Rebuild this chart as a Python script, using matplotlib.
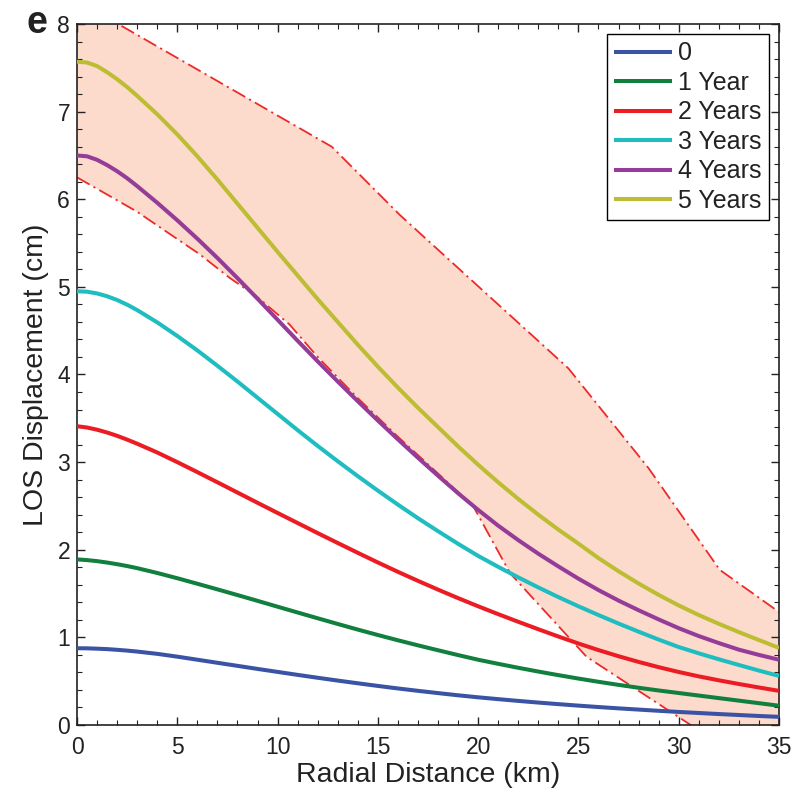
import numpy as np
import matplotlib
matplotlib.use("Agg")
import matplotlib.pyplot as plt

plt.rcParams['font.family'] = ['Liberation Sans', 'DejaVu Sans']

# radial distance grid (km)
x = [0, 0.5, 1, 1.5, 2, 2.5, 3] + list(range(4, 36))

y0 = [0.876, 0.875, 0.871, 0.866, 0.858, 0.849, 0.838, 0.812, 0.780, 0.745,
      0.710, 0.675, 0.640, 0.606, 0.572, 0.539, 0.507, 0.476, 0.446, 0.417,
      0.390, 0.364, 0.339, 0.316, 0.295, 0.275, 0.256, 0.238, 0.221, 0.205,
      0.190, 0.176, 0.162, 0.149, 0.137, 0.125, 0.114, 0.103, 0.093]
y1 = [1.890, 1.882, 1.870, 1.854, 1.835, 1.814, 1.790, 1.735, 1.675, 1.612,
      1.548, 1.483, 1.417, 1.350, 1.284, 1.218, 1.153, 1.089, 1.027, 0.967,
      0.909, 0.853, 0.798, 0.745, 0.698, 0.653, 0.610, 0.569, 0.530, 0.493,
      0.458, 0.425, 0.394, 0.365, 0.336, 0.307, 0.278, 0.249, 0.220]
y2 = [3.410, 3.395, 3.370, 3.338, 3.300, 3.257, 3.210, 3.110, 3.000, 2.886,
      2.770, 2.653, 2.536, 2.420, 2.305, 2.190, 2.077, 1.965, 1.855, 1.748,
      1.645, 1.545, 1.448, 1.355, 1.265, 1.178, 1.093, 1.010, 0.930, 0.855,
      0.785, 0.720, 0.660, 0.605, 0.555, 0.510, 0.468, 0.428, 0.390]
y3 = [4.950, 4.945, 4.925, 4.893, 4.850, 4.797, 4.735, 4.595, 4.440, 4.275,
      4.100, 3.920, 3.735, 3.550, 3.365, 3.185, 3.010, 2.840, 2.675, 2.515,
      2.360, 2.212, 2.068, 1.930, 1.805, 1.685, 1.570, 1.460, 1.355, 1.255,
      1.158, 1.065, 0.975, 0.890, 0.818, 0.750, 0.685, 0.621, 0.560]
y4 = [6.500, 6.490, 6.450, 6.390, 6.320, 6.240, 6.150, 5.960, 5.760, 5.550,
      5.330, 5.100, 4.865, 4.625, 4.385, 4.150, 3.920, 3.695, 3.475, 3.260,
      3.050, 2.845, 2.645, 2.455, 2.275, 2.110, 1.955, 1.810, 1.670, 1.540,
      1.420, 1.310, 1.205, 1.105, 1.015, 0.935, 0.860, 0.800, 0.745]
y5 = [7.570, 7.560, 7.520, 7.450, 7.370, 7.280, 7.180, 6.970, 6.740, 6.490,
      6.225, 5.950, 5.675, 5.400, 5.130, 4.860, 4.600, 4.340, 4.090, 3.850,
      3.620, 3.400, 3.180, 2.970, 2.770, 2.580, 2.400, 2.230, 2.070, 1.905,
      1.755, 1.615, 1.485, 1.365, 1.255, 1.155, 1.060, 0.970, 0.880]

labels = ['0', '1 Year', '2 Years', '3 Years', '4 Years', '5 Years']
colors = ['#3a53a4', '#11803e', '#ec1c24', '#1fbcc0', '#953c98', '#bcbd32']

# envelope (dash-dot bounds of shaded region)
upper_x = [0.0, 12.7, 16.1, 24.5, 28.5, 32.05, 35.0]
upper_y = [8.27, 6.60, 5.82, 4.07, 2.93, 1.77, 1.29]
lower_x = [0.0, 2.98, 6.13, 7.63, 8.96, 10.6, 12.0, 14.0, 16.0, 18.0, 19.75, 21.6, 25.4, 35.0]
lower_y = [6.25, 5.86, 5.37, 5.10, 4.89, 4.57, 4.20, 3.73, 3.29, 2.87, 2.50, 1.73, 0.78, -0.66]

fig = plt.figure(figsize=(7.93, 7.92), dpi=100)
ax = fig.add_axes([0.0971, 0.0846, 0.8852, 0.8851])

ax.fill(np.concatenate([upper_x, lower_x[::-1]]),
        np.concatenate([upper_y, lower_y[::-1]]),
        color='#fcdbcd', lw=0, zorder=1)
dash = (0, (8, 2.5, 1.2, 2.5))
ax.plot(upper_x, upper_y, color='#ec2a2a', lw=1.3, linestyle=dash, zorder=2)
ax.plot(lower_x, lower_y, color='#ec2a2a', lw=1.3, linestyle=dash, zorder=2)

for ys, lab, c in zip([y0, y1, y2, y3, y4, y5], labels, colors):
    ax.plot(x, ys, color=c, lw=2.9, label=lab, zorder=3, solid_capstyle='butt',
            solid_joinstyle='round')

ax.set_xlim(0, 35)
ax.set_ylim(0, 8)
ax.set_xticks(range(0, 36, 5))
ax.set_yticks(range(0, 9))
ax.set_xticks(np.arange(0, 36, 1), minor=True)
ax.set_yticks(np.arange(0, 8.01, 0.2), minor=True)
ax.tick_params(which='both', direction='in', top=True, right=True, colors='#222222',
               labelsize=16.5)
ax.tick_params(which='major', length=6, width=1.0)
ax.tick_params(which='minor', length=3.5, width=0.8)
ax.tick_params(axis='x', pad=8)
ax.tick_params(axis='y', pad=5)
for s in ax.spines.values():
    s.set_linewidth(1.2)
    s.set_color('#222222')

ax.set_xlabel('Radial Distance (km)', fontsize=20.5, color='#222222', labelpad=2)
ax.set_ylabel('LOS Displacement (cm)', fontsize=20.5, color='#222222', labelpad=6)

leg = ax.legend(loc='upper right', fontsize=18, handlelength=2.3, handletextpad=0.25,
                labelspacing=0.22, borderpad=0.3, borderaxespad=0.4, fancybox=False,
                framealpha=1, edgecolor='black')
leg.get_frame().set_linewidth(1.0)
for t in leg.get_texts():
    t.set_color('#222222')

fig.text(37/793, 1 - 23/792, 'e', fontsize=27, fontweight='bold', ha='center', va='center',
         color='#222222')

fig.savefig('out.png', dpi=100)
